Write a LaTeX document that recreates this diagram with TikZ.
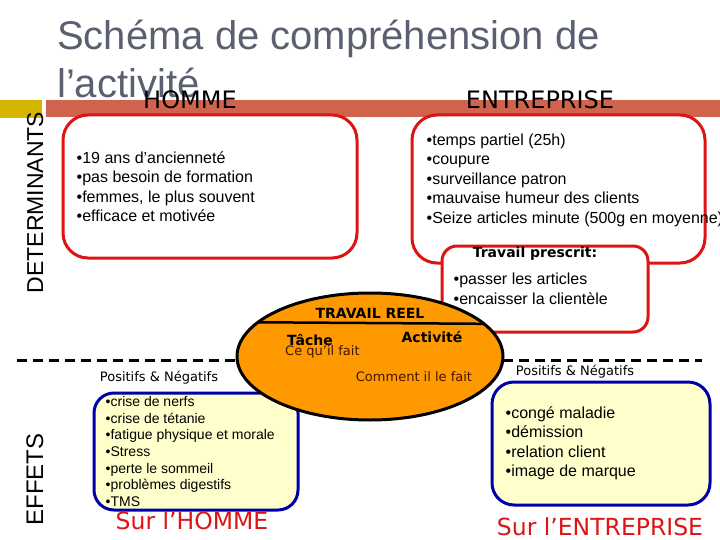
\documentclass[tikz,border=0pt]{standalone}
\usepackage{fontspec}
\setmainfont{Liberation Sans}
\newfontfamily\comicfont{DejaVu Sans}
\usetikzlibrary{shapes.geometric}
\definecolor{titlegray}{RGB}{90,96,112}
\definecolor{bandred}{RGB}{208,99,75}
\definecolor{bandyellow}{RGB}{212,182,0}
\definecolor{boxred}{RGB}{220,20,20}
\definecolor{boxblue}{RGB}{0,0,170}
\definecolor{paleyellow}{RGB}{255,255,204}
\definecolor{reelorange}{RGB}{255,153,0}
\definecolor{brownink}{RGB}{70,20,0}

\begin{document}
\begin{tikzpicture}[
  x=1pt, y=-1pt,
  redbox/.style={draw=boxred, line width=3pt, fill=white, rounded corners=#1, inner sep=0pt},
  redbox/.default=25pt,
  bluebox/.style={draw=boxblue, line width=3pt, fill=paleyellow, rounded corners=#1, inner sep=0pt},
  bluebox/.default=20pt,
  list/.style={font=\fontsize{16}{19.5}\selectfont, align=left, inner sep=0pt, anchor=west},
  head/.style={font=\comicfont\fontsize{24}{24}\selectfont, inner sep=0pt, anchor=base},
  side/.style={font=\fontsize{#1}{#1}\selectfont, rotate=90, inner sep=0pt, anchor=base},
  small/.style={font=\comicfont\fontsize{13}{13}\selectfont, inner sep=0pt},
  bold/.style={font=\comicfont\bfseries\fontsize{14}{14}\selectfont, inner sep=0pt},
  sur/.style={font=\comicfont\fontsize{23.5}{24}\selectfont, text=boxred, inner sep=0pt},
  sepline/.style={line width=3pt, dash pattern=on 10pt off 6pt},
]
\useasboundingbox (0,0) rectangle (720,540);
% title
\node[font=\fontsize{40}{48}\selectfont, text=titlegray, inner sep=0pt, anchor=base west] (title1) at (57,50) {Schéma de compréhension de};
\node[font=\fontsize{40}{48}\selectfont, text=titlegray, inner sep=0pt, anchor=base west] (title2) at (57,98) {l’activité};
% band
\fill[bandyellow] (0,100) rectangle (42,118);
\fill[bandred] (46,100) rectangle (720,117);
\node[head] (homme) at (190,109) {HOMME};
\node[head] (entreprise) at (540,109) {ENTREPRISE};
\node[side=23] (determ) at (43,202.5) {DETERMINANTS};
\node[side=24] (effets) at (43,479.5) {EFFETS};
% determinants
\node[redbox, minimum width=294pt, minimum height=143pt] (hfact) at (210,186.5) {};
\node[list] (htxt) at ([xshift=15pt]hfact.west) {•19 ans d'ancienneté\\•pas besoin de formation\\•femmes, le plus souvent\\•efficace et motivée};
\node[redbox, minimum width=293pt, minimum height=148pt] (efact) at (558.5,189) {};
\node[list] (etxt) at ([xshift=16pt, yshift=9pt]efact.west) {•temps partiel (25h)\\•coupure\\•surveillance patron\\•mauvaise humeur des clients\\•Seize articles minute (500g en moyenne)};
\node[redbox=15pt, minimum width=206pt, minimum height=86pt] (prescrit) at (545,289) {};
\node[bold] (prtitle) at (535,254) {Travail prescrit:};
\node[list] (prtxt) at ([xshift=13pt]prescrit.west) {•passer les articles\\•encaisser la clientèle};
% effets
\draw[sepline] (17,360) -- (238,360);
\draw[sepline] (503,360) -- (702,360);
\node[small] (posh) at (159,378) {Positifs \& Négatifs};
\node[small] (pose) at (575,372) {Positifs \& Négatifs};
\node[bluebox, minimum width=204pt, minimum height=117pt] (effh) at (196,451.5) {};
\node[list, font=\fontsize{14}{16.7}\selectfont] (effhtxt) at ([xshift=13pt]effh.west) {•crise de nerfs\\•crise de tétanie\\•fatigue physique et morale\\•Stress\\•perte le sommeil\\•problèmes digestifs\\•TMS};
\node[bluebox=22pt, minimum width=218pt, minimum height=123pt] (effe) at (601,443.5) {};
\node[list] (effetxt) at ([xshift=15pt]effe.west) {•congé maladie\\•démission\\•relation client\\•image de marque};
\node[sur] (surh) at (192,521) {Sur l’HOMME};
\node[sur] (sure) at (600,527) {Sur l’ENTREPRISE};
% travail reel
\node[ellipse, draw, line width=3pt, fill=reelorange, outer sep=0pt, minimum width=266pt, minimum height=127pt] (reel) at (370,356.5) {};
\draw[line width=2.5pt] (reel.163.5) -- (reel.16.5);
\node[bold] (reeltitle) at (370,313) {TRAVAIL REEL};
\node[bold] (tache) at (310,340) {Tâche};
\node[small, text=brownink, anchor=west] (quoi) at (285,352) {Ce qu’il fait};
\node[bold] (activite) at (432,337) {Activité};
\node[small, text=brownink] (comment) at (414,377) {Comment il le fait};
\end{tikzpicture}
\end{document}
